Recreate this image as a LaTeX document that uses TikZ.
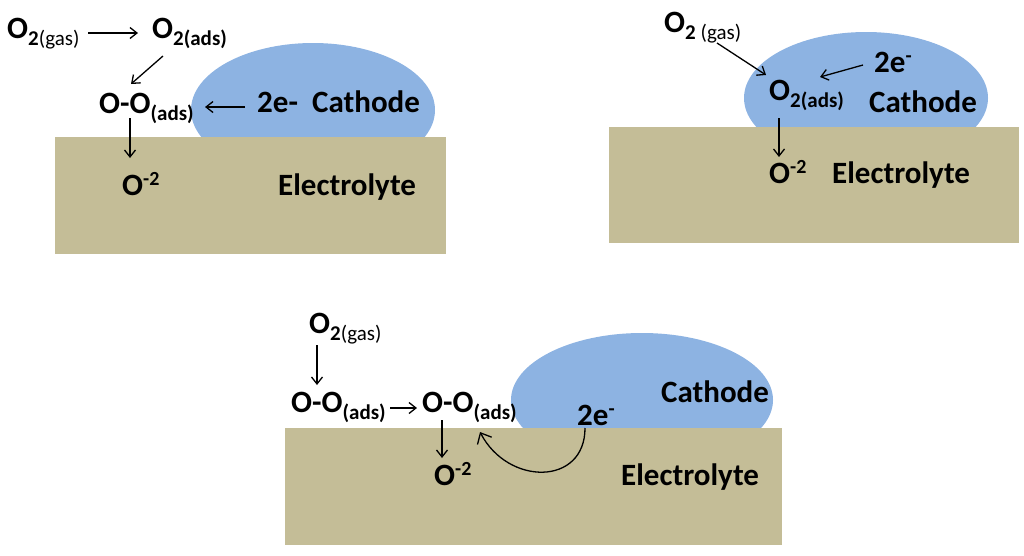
\documentclass[tikz,border=0pt]{standalone}
\usepackage{fontspec}
\setmainfont{Carlito}
\usetikzlibrary{arrows.meta}
\definecolor{elec}{HTML}{C4BD97}
\definecolor{cath}{HTML}{8DB3E2}
\newcommand{\dn}[1]{\raisebox{-7pt}{\fontsize{21}{22}\selectfont #1}}
\newcommand{\upp}[1]{\raisebox{10pt}{\fontsize{20}{21}\selectfont #1}}
\begin{document}
\begin{tikzpicture}[x=1pt,y=-1pt,
  lbl/.style={anchor=base west, inner sep=0pt, font=\fontsize{31}{34}\selectfont\bfseries},
  arr/.style={-{Straight Barb[length=7pt,width=11pt]}, line width=1.3pt},
  cathode/.style={fill=cath},
  electrolyte/.style={fill=elec}]
\useasboundingbox (0,0) rectangle (1024,555);
% ---------- panel 1 ----------
\fill[cathode] (313,110) ellipse [x radius=122pt, y radius=67pt];
\fill[electrolyte] (55,137) rectangle (446,254);
\node[lbl] (g1) at (7,38) {O\dn{2{\mdseries(gas)}}};
\node[lbl] (a1) at (152,38) {O\dn{2(ads)}};
\node[lbl] (oo1) at (99,113) {O-O\dn{(ads)}};
\node[lbl] (e1) at (257,112) {2e-};
\node[lbl] (c1) at (312,112) {Cathode};
\node[lbl] (m1) at (122,195) {O\upp{-2}};
\node[lbl] (el1) at (278,195) {Electrolyte};
\coordinate (p1a) at (88,33);  \coordinate (p1b) at (138,33);
\coordinate (p1c) at (163,56); \coordinate (p1d) at (131,84);
\coordinate (p1e) at (245,107);\coordinate (p1f) at (205,107);
\coordinate (p1g) at (130,118);\coordinate (p1h) at (130,158);
\draw[arr] (p1a) -- (p1b);
\draw[arr] (p1c) -- (p1d);
\draw[arr] (p1e) -- (p1f);
\draw[arr] (p1g) -- (p1h);
% ---------- panel 2 ----------
\fill[cathode] (866,98) ellipse [x radius=122pt, y radius=66pt];
\fill[electrolyte] (609,127) rectangle (1019,243);
\node[lbl] (g2) at (664,32) {O\dn{2 {\mdseries(gas)}}};
\node[lbl] (e2) at (874,72) {2e\upp{-}};
\node[lbl] (a2) at (769,100) {O\dn{2(ads)}};
\node[lbl] (c2) at (869,112) {Cathode};
\node[lbl] (m2) at (769,183) {O\upp{-2}};
\node[lbl] (el2) at (832,183) {Electrolyte};
\coordinate (p2a) at (717,43);  \coordinate (p2b) at (766,75);
\coordinate (p2c) at (863,65);  \coordinate (p2d) at (820,77);
\coordinate (p2e) at (779,118); \coordinate (p2f) at (779,157);
\draw[arr] (p2a) -- (p2b);
\draw[arr] (p2c) -- (p2d);
\draw[arr] (p2e) -- (p2f);
% ---------- panel 3 ----------
\fill[cathode] (642,400) ellipse [x radius=131pt, y radius=67pt];
\fill[electrolyte] (285,428) rectangle (782,545);
\node[lbl] (g3) at (309,333) {O\dn{2{\mdseries(gas)}}};
\node[lbl] (oo3a) at (291,412) {O-O\dn{(ads)}};
\node[lbl] (oo3b) at (422,412) {O-O\dn{(ads)}};
\node[lbl] (m3) at (434,485) {O\upp{-2}};
\node[lbl] (e3) at (577,425) {2e\upp{-}};
\node[lbl] (c3) at (661,402) {Cathode};
\node[lbl] (el3) at (621,485) {Electrolyte};
\coordinate (p3a) at (317,345); \coordinate (p3b) at (317,385);
\coordinate (p3c) at (390,408); \coordinate (p3d) at (417,408);
\coordinate (p3e) at (442,420); \coordinate (p3f) at (442,458);
\coordinate (p3g) at (585,428); \coordinate (p3h) at (480,432);
\draw[arr] (p3a) -- (p3b);
\draw[arr] (p3c) -- (p3d);
\draw[arr] (p3e) -- (p3f);
\draw[arr, -{Straight Barb[length=9pt,width=16pt]}] (p3g) .. controls (585,486) and (508,486) .. (p3h);
\end{tikzpicture}
\end{document}
